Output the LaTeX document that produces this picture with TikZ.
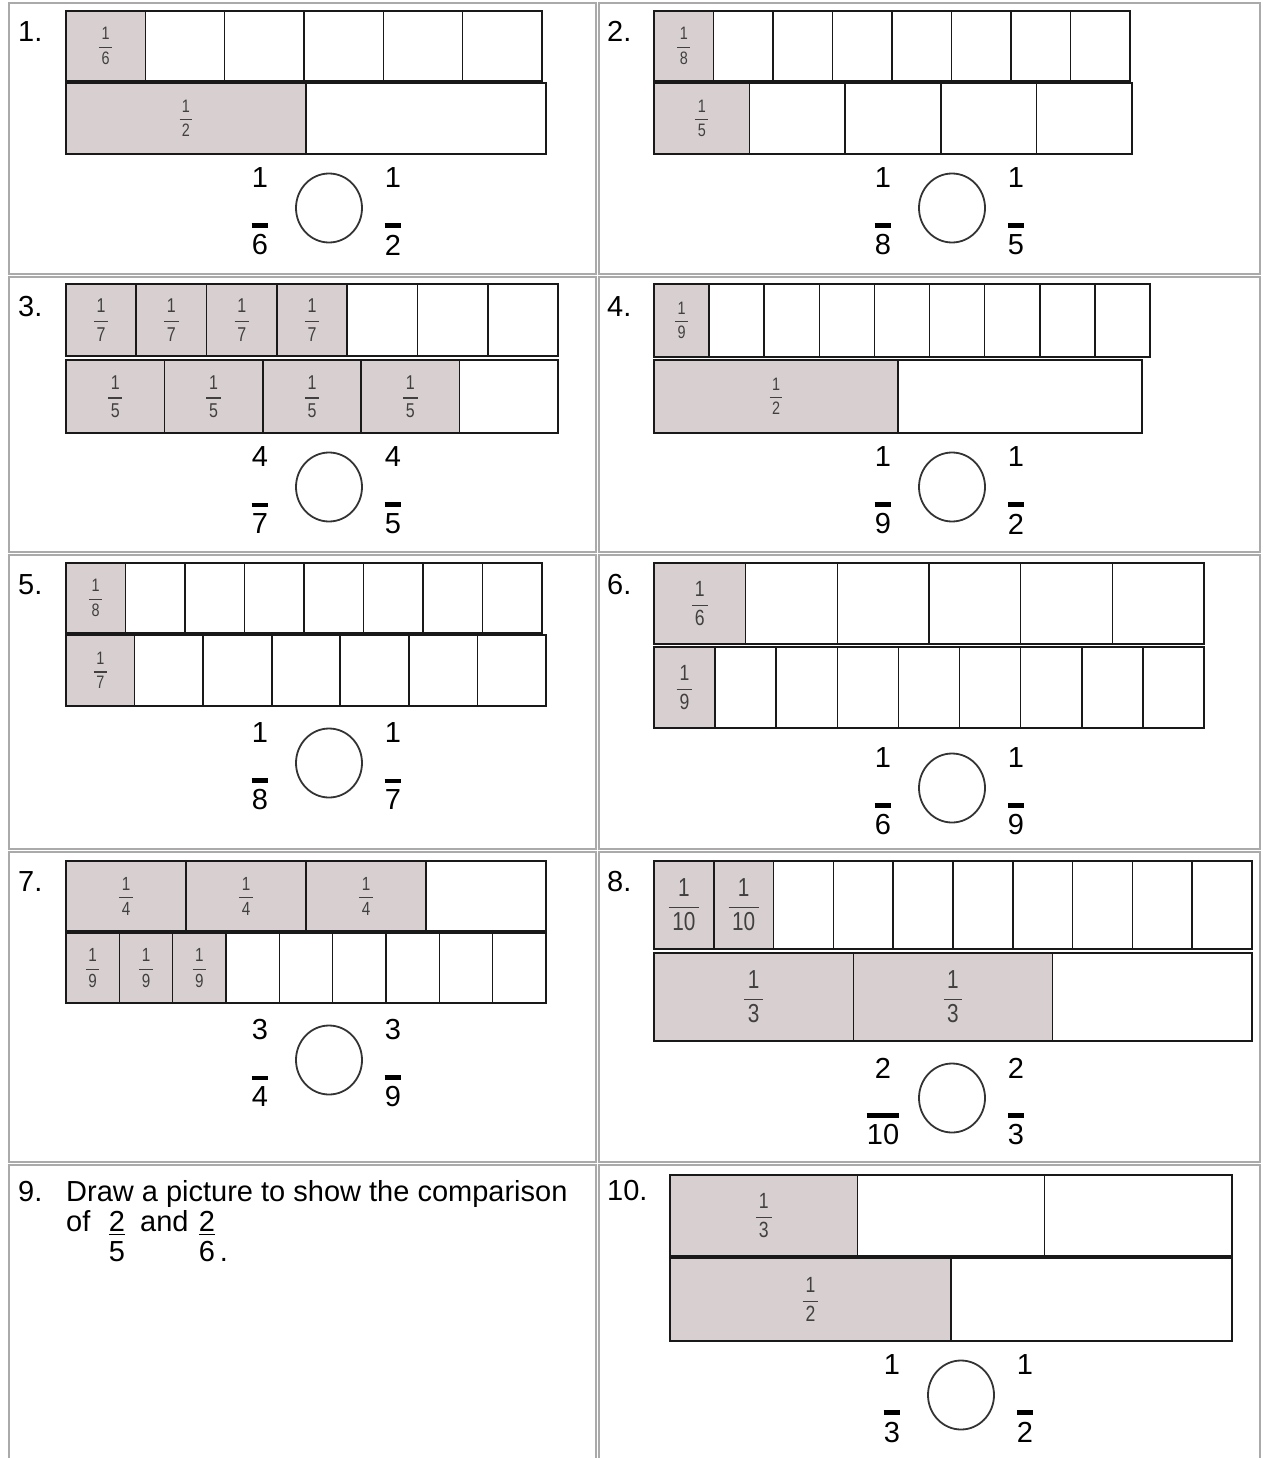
\documentclass[tikz,border=0pt]{standalone}
\usepackage{amsmath}
\usepackage{fontspec}
\setmainfont{Liberation Sans}
\usetikzlibrary{positioning, shapes.geometric}

\definecolor{shade}{RGB}{216,208,208}
\definecolor{gridgray}{RGB}{170,170,170}

% small fraction printed in a shaded part
\newcommand{\cellfrac}[1]{\scalebox{0.8}[1]{$\genfrac{}{}{1.3pt}{0}{\text{\,1\,}}{\text{\,#1\,}}$}}

% one strip: name, x0, x1, top, bottom, parts, shaded parts, denominator, font size
\newcommand{\fracstrip}[9]{%
  \pgfmathsetmacro{\cw}{(#3-#2)/#6}%
  \pgfmathsetmacro{\ch}{#5-#4}%
  \foreach \i in {1,...,#6}{%
    \pgfmathsetmacro{\cx}{#2+(\i-0.5)*\cw}%
    \ifnum\i>#7
      \node[cell, minimum width=\cw pt, minimum height=\ch pt] (#1-\i) at (\cx,{(#4+#5)/2}) {};
    \else
      \node[cell, fill=shade, minimum width=\cw pt, minimum height=\ch pt,
        font=\fontsize{#9}{#9}\selectfont] (#1-\i) at (\cx,{(#4+#5)/2}) {\cellfrac{#8}};
    \fi}}

% two fractions with an empty circle between them: name, x, y, left num/den, right num/den
\newcommand{\compare}[7]{%
  \node[ring] (#1-o) at (#2,#3) {};
  \node[big] (#1-ln) at (#2-69,#3-30) {#4};
  \node[big] (#1-ld) at (#2-69,#3+37) {#5};
  \node[big] (#1-rn) at (#2+64,#3-30) {#6};
  \node[big] (#1-rd) at (#2+64,#3+37) {#7};
  \draw[ovl] ([yshift=9pt]#1-ld.north west) -- ([yshift=9pt]#1-ld.north east);
  \draw[ovl] ([yshift=9pt]#1-rd.north west) -- ([yshift=9pt]#1-rd.north east);}

\begin{document}
\begin{tikzpicture}[
  x=1pt, y=-1pt,
  frame/.style={draw=gridgray, line width=2pt},
  cell/.style={draw=black!90, line width=1.6pt, rectangle, inner sep=0pt,
    text=black!75},
  big/.style={font=\fontsize{29}{29}\selectfont, inner sep=0pt},
  num/.style={big, anchor=north west},
  ring/.style={draw=black!80, line width=1.8pt, ellipse, inner sep=0pt,
    minimum width=66pt, minimum height=69pt},
  ovl/.style={line width=4.5pt, black},
]
  \useasboundingbox (0,0) rectangle (1262,1458);

  % table cells
  \foreach \t/\b in {3/274, 277/552, 555/849, 852/1162}{
    \draw[frame] (9,\t) rectangle (596,\b);
    \draw[frame] (599,\t) rectangle (1260,\b);
  }
  \draw[frame] (9,1462) -- (9,1165) -- (596,1165) -- (596,1462);
  \draw[frame] (599,1462) -- (599,1165) -- (1260,1165) -- (1260,1462);

  % Row 1: problems 1 and 2
  \node[num] (n1) at (18,21) {1.};
  \fracstrip{p1a}{66}{542}{11}{81}{6}{1}{6}{18}
  \fracstrip{p1b}{66}{546}{83}{154}{2}{1}{2}{18}
  \compare{c1}{329}{208}{1}{6}{1}{2}

  \node[num] (n2) at (607,21) {2.};
  \fracstrip{p2a}{654}{1130}{11}{81}{8}{1}{8}{18}
  \fracstrip{p2b}{654}{1132}{83}{154}{5}{1}{5}{18}
  \compare{c2}{952}{208}{1}{8}{1}{5}

  % Row 2: problems 3 and 4
  \node[num] (n3) at (18,296) {3.};
  \fracstrip{p3a}{66}{558}{284}{356}{7}{4}{7}{20}
  \fracstrip{p3b}{66}{558}{360}{433}{5}{4}{5}{20}
  \compare{c3}{329}{487}{4}{7}{4}{5}

  \node[num] (n4) at (607,296) {4.};
  \fracstrip{p4a}{654}{1150}{284}{357}{9}{1}{9}{18}
  \fracstrip{p4b}{654}{1142}{360}{433}{2}{1}{2}{18}
  \compare{c4}{952}{487}{1}{9}{1}{2}

  % Row 3: problems 5 and 6
  \node[num] (n5) at (18,574) {5.};
  \fracstrip{p5a}{66}{542}{563}{633}{8}{1}{8}{18}
  \fracstrip{p5b}{66}{546}{635}{706}{7}{1}{7}{18}
  \compare{c5}{329}{763}{1}{8}{1}{7}

  \node[num] (n6) at (607,574) {6.};
  \fracstrip{p6a}{654}{1204}{563}{644}{6}{1}{6}{22}
  \fracstrip{p6b}{654}{1204}{647}{728}{9}{1}{9}{22}
  \compare{c6}{952}{788}{1}{6}{1}{9}

  % Row 4: problems 7 and 8
  \node[num] (n7) at (18,871) {7.};
  \fracstrip{p7a}{66}{546}{861}{931}{4}{3}{4}{19}
  \fracstrip{p7b}{66}{546}{933}{1003}{9}{3}{9}{19}
  \compare{c7}{329}{1060}{3}{4}{3}{9}

  \node[num] (n8) at (607,871) {8.};
  \fracstrip{p8a}{654}{1252}{861}{949}{10}{2}{10}{26}
  \fracstrip{p8b}{654}{1252}{953}{1041}{3}{2}{3}{26}
  \compare{c8}{952}{1098}{2}{10}{2}{3}

  % Row 5: problem 9 (text only) and problem 10
  \node[big, anchor=base west] (n9) at (18,1201) {9.};
  \node[big, anchor=base west] (q9a) at (66,1201) {Draw a picture to show the comparison};
  \node[big, anchor=base west] (q9of) at (66,1231) {of};
  \node[big, anchor=base] (q9x) at (117,1231) {\underline{2}};
  \node[big, anchor=base west] (q9and) at (140,1231) {and};
  \node[big, anchor=base] (q9y) at (207,1231) {\underline{2}};
  \node[big, anchor=base] (q9xd) at ([yshift=-30pt]q9x.base) {5};
  \node[big, anchor=base west] (q9yd) at ([yshift=-30pt]q9y.base west) {6\,.};

  \node[num] (n10) at (607,1180) {10.};
  \fracstrip{p10a}{670}{1232}{1175}{1256}{3}{1}{3}{22}
  \fracstrip{p10b}{670}{1232}{1258}{1341}{2}{1}{2}{22}
  \compare{c10}{961}{1395}{1}{3}{1}{2}
\end{tikzpicture}
\end{document}
